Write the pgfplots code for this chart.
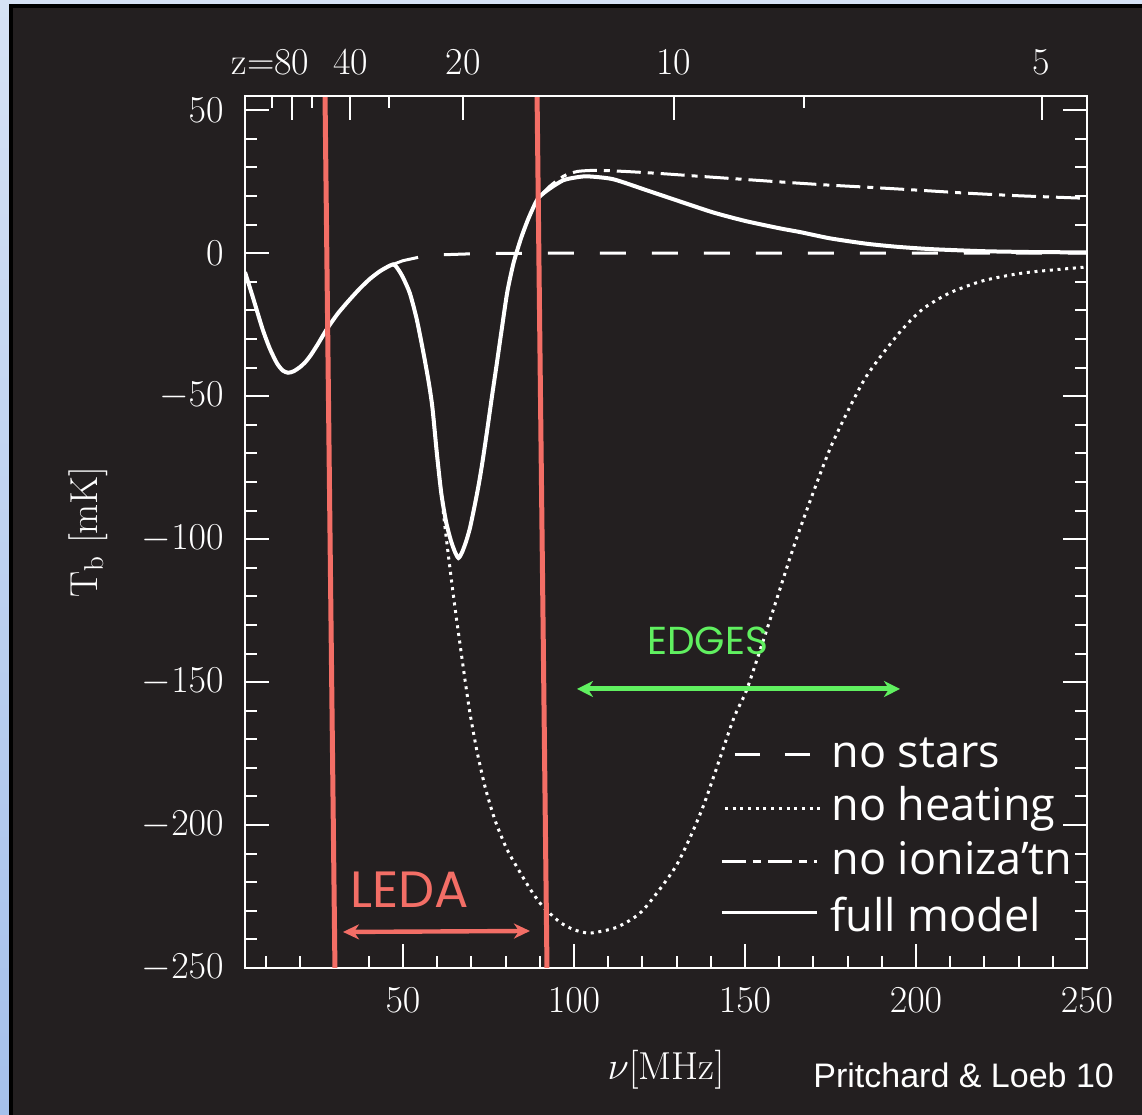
\RequirePackage{fix-cm}
\documentclass[border=0pt]{standalone}
\usepackage{fontspec}
\usepackage{pgfplots}
\pgfplotsset{compat=1.18}
\usepackage{pgfplotstable}
\usetikzlibrary{arrows.meta}
\newfontfamily\legfont{Open Sans}
\newfontfamily\geofont{Poppins}
\newfontfamily\credfont{Liberation Sans}
\definecolor{bgdark}{RGB}{35,31,32}
\definecolor{ledared}{RGB}{243,110,102}
\definecolor{edgesgreen}{RGB}{96,240,96}
\definecolor{bluetop}{RGB}{214,226,245}
\definecolor{bluebot}{RGB}{165,192,235}
\newcommand{\tickfont}{\fontsize{19bp}{22bp}\selectfont}
\newcommand{\labfont}{\fontsize{19.5bp}{22bp}\selectfont}

\pgfplotstableread{
nu T
3.8 -6.6
6 -15
8.9 -26.4
11 -33.2
13.1 -38.4
14.8 -41
16.4 -41.8
18 -41.3
19.9 -39.8
21.5 -38
23 -35.7
25 -32
27.7 -26.6
31 -21
34.5 -16.1
37.5 -12.2
40.4 -8.9
43.5 -6.1
47.1 -3.9
48.5 -5.5
50 -8.5
52 -14
54 -23
56 -35
57.5 -45
58.6 -54
59.9 -70
61.2 -84
62.6 -94
64 -100.5
65.2 -104.5
66.2 -106.6
67.2 -104.8
68.4 -101
69.6 -96
71 -88
72.2 -80.5
73.3 -72.5
74.6 -62
75.9 -51
77.5 -38
79 -25.5
80.5 -13.5
82.3 -3.5
84.5 5.2
86.8 12.5
89.5 19.2
93.0 22.7
96.8 25.5
100 26.4
103.8 26.9
111.4 25.9
121.3 22
130 18.5
140.6 14.3
150 11.3
160.2 8.7
166.1 7.4
174.9 5.2
185.7 3.3
195 2.2
205 1.4
220 0.7
235 0.4
250 0.3
}\fullmodel

\pgfplotstableread{
nu T
47.1 -3.9
48.5 -5.5
50 -8.5
52 -14
54 -23
56 -35
57.5 -45
58.6 -54
59.9 -70
61.2 -84
62.3 -96
63.4 -107
64.5 -117.5
65.6 -127.5
66.7 -137
68.1 -149
69.6 -161
71.6 -174
74.0 -186.7
76.9 -198.3
80.4 -208.5
84.2 -216.5
87.5 -223
90.9 -228.5
95.9 -234
100 -236.6
104.7 -237.8
112.6 -235.7
120 -230
130 -214
137.7 -193.7
146.5 -163.3
150.6 -152.4
157.3 -128.3
165 -100
175 -68
185 -44
195 -28
202 -19.5
210 -13.8
220 -9.5
232 -6.8
250 -4.8
}\noheating

\pgfplotstableread{
nu T
89.5 19.2
93 23.5
97 27
101 28.6
106.7 29.0
115 28.6
125 27.9
136.8 26.9
150 25.8
162 24.8
174.9 23.8
185.7 23.1
200 22.1
215 21
230 20.1
250 19.2
}\noioniz

\pgfplotstableread{
nu T
47.1 -3.9
50 -2.6
55 -1.3
60 -0.6
70 -0.2
80 -0.05
90 0
250 0
}\nostars

\begin{document}
\begin{tikzpicture}
\useasboundingbox (0,0) rectangle (571bp,557.5bp);
\shade[top color=bluetop, bottom color=bluebot] (0,0) rectangle (571bp,557.5bp);
\fill[black] (4.5bp,0) rectangle (571bp,555.5bp);
\fill[bgdark] (6.5bp,0) rectangle (571bp,553.5bp);

\begin{axis}[
  at={(122.5bp,73.5bp)}, anchor=south west, scale only axis,
  width=421bp, height=436bp,
  xmin=3.8, xmax=250, ymin=-250, ymax=55,
  no markers,
  xtick={50,100,150,200,250},
  minor xtick={10,20,30,40,60,70,80,90,110,120,130,140,160,170,180,190,210,220,230,240},
  ytick={-250,-200,-150,-100,-50,0,50},
  minor ytick={-240,-230,...,40},
  xtick pos=left, ytick pos=both,
  tick align=inside,
  major tick length=12bp, minor tick length=6bp,
  axis line style={white, line width=1bp},
  tick style={white, line width=1bp},
  tick label style={text=white, font=\tickfont, inner sep=0pt},
  xticklabel style={anchor=center, yshift=-16bp},
  yticklabel style={anchor=east, xshift=-10.5bp},
  xlabel={$\nu[\mathrm{MHz}]$},
  ylabel={$\mathrm{T_b\ [mK]}$},
  every axis x label/.style={at={(rel axis cs:0.5,0)}, anchor=center, yshift=-51bp, text=white, font=\labfont},
  every axis y label/.style={at={(rel axis cs:0,0.5)}, anchor=center, xshift=-78.5bp, rotate=90, text=white, font=\labfont},
]
\addplot[white, line width=1.5bp, dash pattern=on 13bp off 13bp] table {\nostars};
\addplot[white, line width=1.5bp, dash pattern=on 1.5bp off 2.35bp, smooth, tension=0.4] table {\noheating};
\addplot[white, line width=1.5bp, dash pattern=on 12bp off 3.5bp on 3bp off 3.5bp, smooth, tension=0.4] table {\noioniz};
\addplot[white, line width=2bp, smooth, tension=0.4] table {\fullmodel};
\addplot[ledared, line width=2.5bp] coordinates {(27.2,55) (30.1,-250)};
\addplot[ledared, line width=2.5bp] coordinates {(89.2,55) (92.1,-250)};
\end{axis}

\begin{axis}[
  at={(122.5bp,73.5bp)}, anchor=south west, scale only axis,
  width=421bp, height=436bp,
  xmin=3.8, xmax=250, ymin=-250, ymax=55,
  axis x line*=top, hide y axis,
  xtick={17.54,34.64,67.64,129.13,236.73},
  xticklabels={{\llap{z=}80},40,20,10,5},
  minor xtick={11.74,23.29,45.82,167.11},
  tick align=inside,
  major tick length=12bp, minor tick length=6bp,
  axis line style={white, line width=1bp},
  tick style={white, line width=1bp},
  tick label style={text=white, font=\tickfont, inner sep=0pt},
  xticklabel style={anchor=base, yshift=10.5bp},
]
\addplot[draw=none] coordinates {(10,0)};
\end{axis}

\begin{scope}[x=0.5bp, y=-0.5bp, yshift=557.5bp]
  \draw[ledared, line width=2.2bp, {Stealth[length=8bp,width=7.5bp,inset=2.5bp]}-{Stealth[length=8bp,width=7.5bp,inset=2.5bp]}] (343,932) -- (530,931);
  \node[text=ledared, font=\geofont\fontsize{25.5bp}{27bp}\selectfont, anchor=base west, inner sep=0pt] at (350,908) {LEDA};
  \draw[edgesgreen, line width=2.5bp, {Stealth[length=8bp,width=8bp,inset=2.5bp]}-{Stealth[length=8bp,width=8bp,inset=2.5bp]}] (577,689) -- (900,689);
  \node[text=edgesgreen, font=\geofont\fontsize{19.5bp}{21bp}\selectfont, anchor=base west, inner sep=0pt] at (647,655) {EDGES};
  % legend
  \draw[white, line width=1.5bp, dash pattern=on 12.5bp off 12.5bp] (735,755) -- (812,755);
  \draw[white, line width=1.5bp, dash pattern=on 1.5bp off 2.35bp] (725,809) -- (822,809);
  \draw[white, line width=1.5bp, dash pattern=on 12bp off 3.5bp on 4bp off 3.5bp] (722,862) -- (817,862);
  \draw[white, line width=1.5bp] (722,913) -- (817,913);
  \begin{scope}[every node/.style={text=white, font=\legfont\fontsize{22.5bp}{26bp}\selectfont, anchor=base west, inner sep=0pt}]
    \node at (831,768) {no stars};
    \node at (831,821) {no heating};
    \node at (831,875) {no ioniza’tn};
    \node at (830,932) {full model};
  \end{scope}
  \node[text=white, font=\credfont\fontsize{17bp}{20bp}\selectfont, anchor=base west, inner sep=0pt] at (813,1088) {Pritchard \& Loeb 10};
\end{scope}
\end{tikzpicture}
\end{document}
